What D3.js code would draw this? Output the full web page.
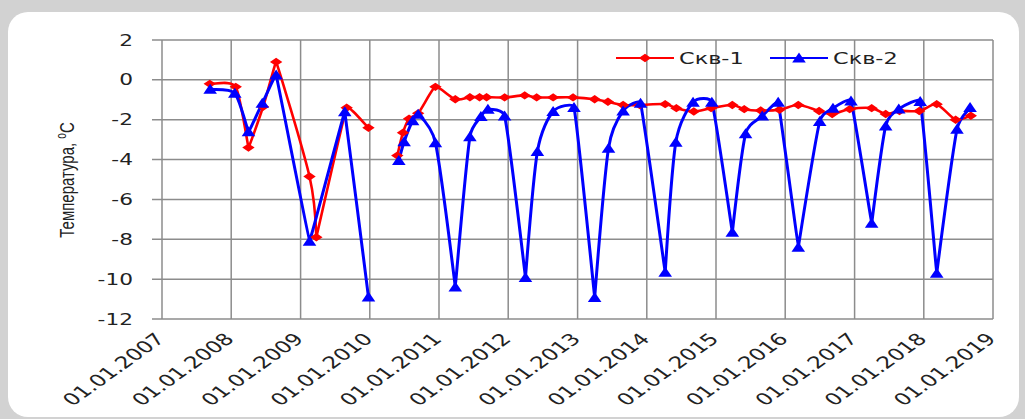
<!DOCTYPE html>
<html>
<head>
<meta charset="utf-8">
<script src="https://cdn.jsdelivr.net/npm/d3@7"></script>
<style>
  html, body { margin: 0; padding: 0; background: #d2d2d2; }
  svg { display: block; }
</style>
</head>
<body>
<svg id="chart" width="1025" height="419"></svg>
<script>
// ---- DATA ----
const seriesNames = ["Скв-1", "Скв-2"];
const yTicks = [2, 0, -2, -4, -6, -8, -10, -12];
const xTickLabels = ["01.01.2007","01.01.2008","01.01.2009","01.01.2010","01.01.2011","01.01.2012","01.01.2013",
                     "01.01.2014","01.01.2015","01.01.2016","01.01.2017","01.01.2018","01.01.2019"];
const yTitle = "Температура, ";

// Скв-1 (null marks a gap in measurements)
const skv1Dates = ["2007-09-10","2008-01-25","2008-04-01","2008-06-17","2008-08-25","2009-02-17","2009-03-25","2009-09-01","2009-12-25",
  "2010-03-01",
  "2010-05-26","2010-06-25","2010-07-27","2010-09-13","2010-12-13","2011-03-28","2011-06-13","2011-08-03","2011-09-09","2011-12-13",
  "2012-03-28","2012-05-30","2012-08-25","2012-12-08","2013-04-01","2013-06-10","2013-08-29","2013-11-25","2014-04-08","2014-06-06",
  "2014-09-06","2014-12-06","2015-03-28","2015-05-30","2015-08-25","2015-12-02","2016-03-10","2016-06-28","2016-09-05","2016-12-06",
  "2017-04-01","2017-06-14","2017-08-26","2017-12-08","2018-03-10","2018-06-18","2018-09-06"];
const skv1Values = [-0.2,-0.35,-3.4,-1.35,0.9,-4.85,-7.9,-1.4,-2.4,
  null,
  -3.8,-2.65,-1.95,-1.68,-0.35,-0.97,-0.87,-0.87,-0.87,-0.88,
  -0.78,-0.88,-0.88,-0.88,-0.97,-1.1,-1.26,-1.26,-1.22,-1.42,
  -1.59,-1.42,-1.26,-1.47,-1.54,-1.5,-1.26,-1.56,-1.71,-1.47,
  -1.42,-1.71,-1.56,-1.56,-1.22,-2.0,-1.8];

// Скв-2
const skv2Dates = ["2007-09-12","2008-01-20","2008-04-01","2008-06-13","2008-08-25","2009-02-17","2009-08-22","2009-12-25",
  "2010-03-01",
  "2010-06-03","2010-07-01","2010-08-15","2010-09-13","2010-12-13","2011-03-28","2011-06-13","2011-08-10","2011-09-16","2011-12-13",
  "2012-04-01","2012-06-03","2012-08-25","2012-12-13","2013-04-01","2013-06-13","2013-08-29","2013-11-29","2014-04-08","2014-06-03",
  "2014-09-02","2014-12-10","2015-03-28","2015-06-06","2015-09-02","2015-11-25","2016-03-10","2016-07-01","2016-09-09","2016-12-13",
  "2017-04-01","2017-06-14","2017-08-22","2017-12-13","2018-03-10","2018-06-25","2018-09-02"];
const skv2Values = [-0.47,-0.67,-2.6,-1.17,0.25,-8.1,-1.6,-10.9,
  null,
  -4.05,-3.1,-2.05,-1.72,-3.15,-10.4,-2.85,-1.84,-1.47,-1.81,
  -9.92,-3.6,-1.59,-1.39,-10.92,-3.43,-1.56,-1.17,-9.66,-3.13,
  -1.12,-1.12,-7.65,-2.71,-1.81,-1.12,-8.4,-2.09,-1.42,-1.06,
  -7.2,-2.31,-1.46,-1.09,-9.71,-2.48,-1.39];

// ---- LAYOUT ----
const SX = 1.4; // horizontal stretch of the original picture
const plot = { left: 162, right: 993, top: 40, bottom: 319 };
const parse = d3.timeParse("%Y-%m-%d");
const xDomain = [parse("2007-01-01"), parse("2019-01-01")];
const x = d3.scaleTime().domain(xDomain).range([plot.left, plot.right]);
const y = d3.scaleLinear().domain([-12, 2]).range([plot.bottom, plot.top]);
const gridColor = "#8c8c8c";

const svg = d3.select("#chart");

// card
svg.append("rect").attr("x", 8).attr("y", 12).attr("width", 1011).attr("height", 405)
  .attr("rx", 20).attr("ry", 20).attr("fill", "#ffffff");

// grid
const yearTicks = d3.timeYear.range(parse("2007-01-01"), parse("2019-01-02"));
svg.append("g").selectAll("line").data(yearTicks).join("line")
  .attr("x1", d => x(d)).attr("x2", d => x(d))
  .attr("y1", plot.top).attr("y2", plot.bottom)
  .attr("stroke", gridColor).attr("stroke-width", 1.5);

svg.append("g").selectAll("line").data(yTicks).join("line")
  .attr("x1", plot.left - 10).attr("x2", plot.right)
  .attr("y1", d => y(d)).attr("y2", d => y(d))
  .attr("stroke", gridColor).attr("stroke-width", 1.5);

// y tick labels
svg.append("g").selectAll("text").data(yTicks).join("text")
  .attr("transform", d => `translate(133,${y(d)}) scale(${SX},1)`)
  .attr("dy", "0.36em")
  .attr("text-anchor", "end")
  .attr("font-family", "DejaVu Sans")
  .attr("font-size", 15.5)
  .attr("fill", "#222")
  .text(d => d);

// x tick labels
svg.append("g").selectAll("text").data(yearTicks).join("text")
  .attr("transform", (d) => `translate(${x(d) + 4},${plot.bottom + 21}) scale(${SX},1) rotate(-45)`)
  .attr("text-anchor", "end")
  .attr("font-family", "DejaVu Sans")
  .attr("font-size", 16.5)
  .attr("fill", "#222")
  .text((d, i) => xTickLabels[i]);

// y title
const yt = svg.append("text")
  .attr("transform", `translate(74,180) scale(${SX},1) rotate(-90)`)
  .attr("text-anchor", "middle")
  .attr("font-family", "Liberation Sans")
  .attr("font-size", 15)
  .attr("fill", "#222");
yt.append("tspan").text(yTitle);
yt.append("tspan").attr("font-size", 10).attr("dy", -6).text("о");
yt.append("tspan").attr("dy", 6).text("С");

// Smoothed line curve: Bezier arms limited by tension, segment length and turn sharpness
function SmoothCurve(context) { this._context = context; }
SmoothCurve.prototype = {
  areaStart() { this._line = 0; },
  areaEnd() { this._line = NaN; },
  lineStart() { this._pts = []; },
  point(px, py) { this._pts.push([+px, +py]); },
  lineEnd() {
    const p = this._pts, c = this._context, n = p.length;
    if (!n) return;
    c.moveTo(p[0][0], p[0][1]);
    if (n === 1) return;
    const dist = (a, b) => Math.hypot(b[0] - a[0], b[1] - a[1]);
    const sharp = (a, b, d) => {
      const l1 = dist(a, b), l2 = dist(b, d);
      if (!l1 || !l2) return 1;
      const dot = ((b[0] - a[0]) * (d[0] - b[0]) + (b[1] - a[1]) * (d[1] - b[1])) / (l1 * l2);
      return (1 + dot) / 2;
    };
    const f = 1 / 6, k = 0.5;
    for (let i = 0; i < n - 1; i++) {
      const p0 = p[i - 1] || p[i], p1 = p[i], p2 = p[i + 1], p3 = p[i + 2] || p[i + 1];
      const d02 = dist(p0, p2), d12 = dist(p1, p2), d13 = dist(p1, p3);
      let f1 = f, f2 = f;
      if (d02 * f > d12 * k && d02 > 0) f1 = d12 * k / d02;
      if (d13 * f > d12 * k && d13 > 0) f2 = d12 * k / d13;
      f1 *= sharp(p0, p1, p2);
      f2 *= sharp(p1, p2, p3);
      const c1 = [p1[0] + (p2[0] - p0[0]) * f1, p1[1] + (p2[1] - p0[1]) * f1];
      const c2 = [p2[0] - (p3[0] - p1[0]) * f2, p2[1] - (p3[1] - p1[1]) * f2];
      c.bezierCurveTo(c1[0], c1[1], c2[0], c2[1], p2[0], p2[1]);
    }
  }
};
const curveSmooth = context => new SmoothCurve(context);

// series
function rows(dates, values) {
  return dates.map((d, i) => ({ date: parse(d), value: values[i] }));
}
const series = [
  { name: seriesNames[0], data: rows(skv1Dates, skv1Values), color: "#ff0000", width: 2.6, marker: "diamond" },
  { name: seriesNames[1], data: rows(skv2Dates, skv2Values), color: "#0000ff", width: 3, marker: "triangle" }
];

const line = d3.line()
  .defined(d => d.value !== null)
  .x(d => x(d.date)).y(d => y(d.value))
  .curve(curveSmooth);

const diamondPath = "M0,-4.2L6.2,0L0,4.2L-6.2,0Z";
const trianglePath = "M0,-5.5L6.8,4.5L-6.8,4.5Z";

series.forEach(s => {
  svg.append("path").datum(s.data)
    .attr("d", line)
    .attr("fill", "none")
    .attr("stroke", s.color)
    .attr("stroke-width", s.width)
    .attr("stroke-linejoin", "round");
});
series.forEach(s => {
  svg.append("g").selectAll("path").data(s.data.filter(d => d.value !== null)).join("path")
    .attr("transform", d => `translate(${x(d.date)},${y(d.value)})`)
    .attr("d", s.marker === "diamond" ? diamondPath : trianglePath)
    .attr("fill", s.color);
});

// legend
const legendItems = [
  { name: seriesNames[0], color: "#ff0000", marker: diamondPath, x0: 616 },
  { name: seriesNames[1], color: "#0000ff", marker: trianglePath, x0: 770 }
];
const lg = svg.append("g");
legendItems.forEach(it => {
  lg.append("line").attr("x1", it.x0).attr("x2", it.x0 + 58).attr("y1", 58).attr("y2", 58)
    .attr("stroke", it.color).attr("stroke-width", 2);
  lg.append("path").attr("d", it.marker).attr("transform", `translate(${it.x0 + 29},58)`).attr("fill", it.color);
  lg.append("text").attr("transform", `translate(${it.x0 + 63},58) scale(${SX},1)`)
    .attr("dy", "0.36em")
    .attr("font-family", "DejaVu Sans").attr("font-size", 16).attr("fill", "#222")
    .text(it.name);
});
</script>
</body>
</html>
